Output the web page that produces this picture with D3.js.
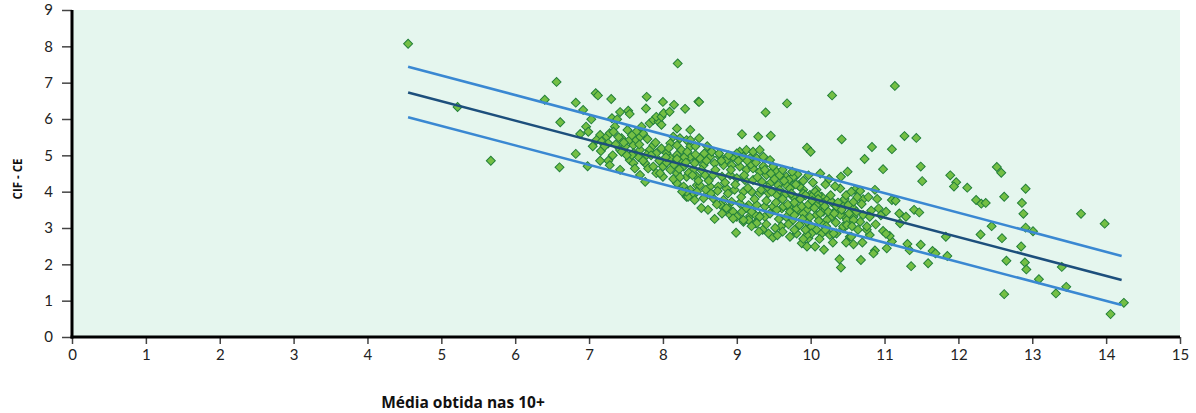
<!DOCTYPE html>
<html>
<head>
<meta charset="utf-8">
<script src="https://cdn.jsdelivr.net/npm/d3@7"></script>
<style>
  html, body { margin: 0; padding: 0; background: #ffffff; }
  svg { display: block; }
  .tick text { font-family: Lato, "Open Sans", sans-serif; font-size: 15px; fill: #222; }
  .title { font-family: "Open Sans", Lato, sans-serif; font-weight: bold; fill: #111; }
</style>
</head>
<body>
<svg id="chart" width="1196" height="413"></svg>
<script>
// ---- data ----
const xTicks = [0,1,2,3,4,5,6,7,8,9,10,11,12,13,14,15];
const yTicks = [0,1,2,3,4,5,6,7,8,9];
const xLabel = "Média obtida nas 10+";
const yLabel = "CIF - CE";

// regression line and band (start x, end x)
const lineX = [4.55, 14.21];
const fitY = [6.73, 1.57];
const upperY = [7.44, 2.23];
const lowerY = [6.05, 0.88];

// scatter points [x, y]
const points = [
[4.55,8.07],[5.22,6.33],[5.67,4.85],[6.40,6.53],[6.56,7.02],[6.61,5.91],[6.60,4.67],[6.82,6.45],[6.82,5.04],[6.98,4.70],
[7.09,6.71],[7.12,6.65],[7.30,6.55],[6.92,6.25],[7.03,5.99],[7.42,6.19],[7.53,6.23],[7.55,6.14],[7.31,6.02],[7.38,5.99],
[6.96,5.79],[6.99,5.65],[6.88,5.59],[7.35,5.79],[7.52,5.70],[7.15,5.56],[7.24,5.51],[7.10,5.42],[7.28,5.61],[7.33,5.65],
[7.44,5.47],[7.55,5.42],[7.17,5.38],[7.26,5.33],[7.16,5.12],[7.26,4.85],[7.15,4.85],[7.42,5.15],[7.49,5.24],[7.60,5.28],
[7.64,5.42],[7.69,5.51],[7.73,5.61],[7.71,5.79],[7.82,5.88],[7.87,5.97],[7.94,5.93],[7.98,5.84],[7.91,6.06],[7.98,6.06],
[8.01,6.16],[7.78,6.61],[7.77,6.29],[8.00,6.47],[8.15,6.39],[8.30,6.28],[8.09,6.20],[8.48,6.48],[8.20,7.53],[8.19,5.74],
[8.14,5.51],[7.55,4.87],[7.60,5.06],[7.67,4.95],[7.76,4.78],[7.80,4.64],[7.76,4.27],[7.82,5.15],[7.91,5.06],[7.87,5.28],
[7.98,5.19],[8.05,5.06],[8.10,4.92],[8.19,5.01],[8.25,5.15],[8.23,5.47],[8.32,5.42],[8.37,5.24],[8.10,5.33],[8.19,5.28],
[8.37,5.70],[8.00,4.69],[8.10,4.60],[7.91,4.51],[8.00,4.41],[8.19,4.51],[8.28,4.69],[8.32,4.41],[8.41,4.60],[8.46,4.41],
[8.25,4.87],[8.37,4.96],[8.46,4.87],[8.19,4.23],[8.28,4.14],[8.37,4.05],[8.46,4.18],[8.32,3.86],[8.41,3.91],[7.44,5.10],
[7.58,5.01],[7.69,5.15],[7.78,5.01],[7.60,4.78],[7.87,4.69],[7.96,4.51],[7.28,4.73],[7.42,4.60],[7.62,4.64],[7.69,4.46],
[8.49,6.47],[9.68,6.43],[9.39,6.18],[10.29,6.65],[11.14,6.91],[9.07,5.58],[9.29,5.51],[9.46,5.54],[10.42,5.44],[9.95,5.21],
[10.00,5.10],[8.49,5.47],[8.37,5.42],[9.04,5.10],[9.13,5.15],[9.22,5.10],[9.31,5.15],[8.95,4.96],[9.09,4.96],[9.18,4.92],
[9.27,4.92],[9.36,4.96],[9.45,4.87],[9.49,4.69],[9.54,4.55],[9.67,4.41],[9.72,4.32],[9.81,4.46],[9.83,4.18],[8.64,4.96],
[8.77,4.96],[8.86,4.87],[8.70,4.78],[8.82,4.73],[8.93,4.73],[8.50,4.92],[8.43,4.78],[8.55,4.73],[9.04,4.69],[9.13,4.60],
[9.22,4.64],[9.31,4.55],[9.40,4.46],[8.57,4.46],[8.68,4.46],[8.80,4.41],[8.91,4.46],[9.00,4.37],[9.11,4.32],[9.22,4.32],
[9.34,4.27],[9.45,4.23],[9.56,4.18],[8.50,4.18],[8.64,4.14],[8.75,4.14],[8.86,4.09],[8.97,4.05],[9.09,4.00],[9.20,4.00],
[9.31,3.96],[9.43,3.96],[9.54,3.91],[9.65,3.91],[9.76,3.86],[9.90,4.05],[9.99,3.91],[10.08,4.05],[10.15,3.86],[10.22,3.77],
[8.55,3.82],[8.68,3.82],[8.82,3.77],[8.93,3.72],[9.04,3.68],[9.16,3.63],[9.27,3.63],[9.38,3.59],[9.49,3.59],[9.61,3.54],
[9.72,3.54],[9.83,3.50],[9.95,3.50],[10.08,3.63],[10.17,3.54],[10.31,3.68],[10.44,3.59],[10.58,3.54],[8.61,3.50],[8.80,3.40],
[8.91,3.36],[9.18,3.33],[9.31,3.33],[8.78,3.64],[8.89,3.54],[8.95,3.45],[9.00,3.31],[9.09,3.17],[9.16,3.22],[8.99,2.87],
[9.25,3.36],[9.25,3.13],[9.38,3.31],[9.45,3.40],[9.43,2.85],[9.49,2.74],[9.60,3.04],[9.72,2.76],[9.54,3.50],[9.63,3.59],
[9.72,3.45],[9.81,3.54],[9.90,3.40],[10.08,3.36],[10.17,3.45],[10.26,3.31],[10.35,3.50],[10.44,3.36],[10.53,3.22],[9.76,3.22],
[9.85,3.08],[9.95,3.17],[10.01,3.04],[10.08,2.95],[10.15,2.85],[9.81,2.85],[9.88,2.58],[9.95,2.49],[10.06,2.49],[9.97,2.72],
[10.26,2.81],[10.35,2.85],[10.44,2.99],[10.53,2.76],[10.39,2.14],[10.41,1.91],[8.34,3.86],[8.43,3.77],[8.32,4.00],[8.95,3.26],
[9.09,3.22],[9.31,3.31],[9.27,3.13],[10.13,4.50],[10.50,4.55],[10.41,4.41],[10.40,4.09],[9.82,4.48],[9.76,4.40],[9.70,4.32],
[9.67,4.18],[9.72,4.09],[9.85,4.14],[9.90,3.95],[10.06,4.00],[10.10,3.91],[10.01,3.86],[10.28,3.72],[10.17,3.68],[10.35,3.59],
[10.51,3.63],[10.40,3.36],[10.49,3.22],[10.58,3.31],[10.28,3.31],[10.22,3.22],[10.15,3.13],[10.01,2.85],[9.95,2.81],[10.31,2.85],
[10.44,3.04],[10.49,3.08],[10.73,4.90],[10.98,4.62],[11.10,5.17],[10.83,5.23],[11.27,5.53],[11.43,5.48],[11.49,4.69],[11.51,4.29],
[11.89,4.45],[11.97,4.26],[11.94,4.14],[12.12,4.11],[12.52,4.68],[12.58,4.52],[12.62,3.86],[12.91,4.08],[12.86,3.69],[12.88,3.39],
[12.24,3.77],[12.31,3.67],[12.37,3.69],[12.45,3.05],[12.30,2.82],[12.59,2.72],[12.91,3.01],[13.01,2.91],[12.85,2.49],[12.65,2.10],
[12.90,2.05],[12.92,1.86],[11.83,2.76],[11.85,2.23],[11.59,2.03],[11.36,1.95],[11.65,2.37],[11.69,2.30],[11.49,2.54],[11.31,2.56],
[11.34,2.39],[11.10,2.63],[11.07,2.78],[10.98,2.92],[11.02,2.84],[10.80,2.81],[10.76,2.95],[10.87,2.38],[10.85,2.30],[10.68,2.12],
[11.20,3.40],[11.29,3.31],[11.21,3.13],[11.40,3.50],[11.47,3.43],[11.02,3.45],[10.92,3.54],[10.82,3.48],[11.10,3.77],[11.15,3.75],
[10.87,4.05],[10.60,4.05],[10.67,4.02],[10.71,3.79],[10.69,3.66],[10.58,3.72],[10.62,3.45],[10.71,3.36],[10.80,3.31],[10.67,3.17],
[10.58,3.22],[10.76,3.04],[10.55,2.76],[13.40,1.93],[13.09,1.59],[13.46,1.38],[13.32,1.20],[12.62,1.18],[13.66,3.39],[13.98,3.12],
[14.24,0.94],[14.06,0.63],[11.03,2.44],
[8.05,4.80],[8.14,4.35],[8.22,4.62],[8.29,4.95],[8.35,4.52],[8.44,5.02],[8.52,4.60],[8.59,4.85],[8.62,4.30],[8.71,4.60],
[8.74,4.02],[8.79,4.85],[8.84,4.25],[8.88,3.95],[8.92,4.60],[8.98,4.20],[9.02,4.85],[9.06,3.85],[9.10,4.45],[9.15,4.10],
[9.19,4.75],[9.24,3.80],[9.28,4.40],[9.33,4.05],[9.36,4.70],[9.40,3.75],[9.42,4.12],[9.47,4.00],[9.51,4.35],[9.53,3.70],
[9.58,4.05],[9.62,3.80],[9.64,4.30],[9.69,3.65],[9.74,3.95],[9.78,3.70],[9.80,4.20],[9.86,3.80],[9.88,3.60],[9.93,3.90],
[9.97,3.65],[10.02,3.75],[10.05,3.55],[10.10,3.80],[10.13,3.40],[10.19,3.60],[10.24,3.45],[10.27,3.90],[10.32,3.40],[10.37,3.70],
[10.42,3.50],[10.46,3.80],[10.52,3.40],[10.56,3.05],[10.34,3.15],[10.21,3.05],[10.11,3.20],[9.99,3.30],[9.89,3.25],[9.78,3.35],
[9.67,3.30],[9.57,3.25],[9.52,3.00],[9.40,3.10],[9.35,2.95],[9.62,2.90],[9.70,3.10],[9.93,2.95],[10.12,2.70],[10.20,2.95],
[9.07,3.45],[9.13,3.55],[9.20,3.45],[8.73,3.65],[8.65,3.95],[8.58,4.05],[8.48,4.30],[8.40,4.45],[8.31,4.80],[8.23,4.40],
[8.15,4.75],[8.08,5.20],[8.04,4.95],[7.95,4.85],[7.90,5.35],[7.84,5.00],[7.79,5.45],[7.73,4.85],[7.68,5.30],[7.64,5.65],
[7.58,5.55],[7.51,5.00],[7.47,5.35],[7.40,5.50],[7.36,5.30],[7.32,5.00],[7.21,5.25],[7.05,5.25],[8.56,5.05],[8.66,5.10],
[8.76,5.05],[8.89,5.00],[9.00,5.05],[9.14,4.85],[9.26,4.80],[9.38,4.60],[9.46,4.50],[9.58,4.45],[9.62,4.60],[9.75,4.55],
[9.90,4.30],[9.97,4.45],[10.03,4.25],[10.20,4.20],[10.25,4.35],[10.33,4.15],[10.48,3.90],[10.55,4.00],[10.63,3.85],[10.78,3.85],
[10.90,3.80],[10.95,3.35],[10.88,3.10],[10.64,2.95],[10.70,2.60],[10.58,2.55],[10.48,2.60],[10.30,2.60],[10.18,2.40],[9.90,2.70],
[9.78,2.95],[9.55,2.80],[9.30,2.90],[9.20,3.05],[8.86,3.55],[8.70,3.25],[8.52,3.55],[8.46,4.00],[8.26,4.00],[8.19,4.90],
[8.33,5.10],[8.44,5.25],[8.60,5.25]
];

// ---- chart ----
const svg = d3.select("#chart");
const mLeft = 72, mRight = 1180, mTop = 10, mBottom = 337;
const x = d3.scaleLinear().domain([0, 15]).range([mLeft, mRight]);
const y = d3.scaleLinear().domain([0, 9]).range([mBottom, mTop]);

// plot background
svg.append("rect")
  .attr("x", x(0)).attr("y", y(9))
  .attr("width", x(15) - x(0)).attr("height", y(0) - y(9))
  .attr("fill", "#e5f6ee");

// points (diamonds)
svg.append("g")
  .selectAll("path")
  .data(points)
  .join("path")
  .attr("d", d3.symbol().type(d3.symbolSquare).size(40))
  .attr("transform", d => `translate(${x(d[0])},${y(d[1])}) rotate(45)`)
  .attr("fill", "#74bf44")
  .attr("stroke", "#23803a")
  .attr("stroke-width", 1);

// lines
const lineGen = d3.line().x(d => x(d[0])).y(d => y(d[1]));
const mk = ys => lineX.map((v, i) => [v, ys[i]]);
svg.append("path").datum(mk(upperY)).attr("d", lineGen)
  .attr("fill", "none").attr("stroke", "#3a88d2").attr("stroke-width", 2.6);
svg.append("path").datum(mk(lowerY)).attr("d", lineGen)
  .attr("fill", "none").attr("stroke", "#3a88d2").attr("stroke-width", 2.6);
svg.append("path").datum(mk(fitY)).attr("d", lineGen)
  .attr("fill", "none").attr("stroke", "#1d4f7c").attr("stroke-width", 2.6);

// axes
const xAxis = d3.axisBottom(x).tickValues(xTicks).tickFormat(d3.format("d")).tickSize(7).tickPadding(4);
const yAxis = d3.axisLeft(y).tickValues(yTicks).tickFormat(d3.format("d")).tickSize(10).tickPadding(9);

const gx = svg.append("g").attr("transform", `translate(0,${mBottom})`).call(xAxis);
const gy = svg.append("g").attr("transform", `translate(${mLeft},0)`).call(yAxis);
[gx, gy].forEach(g => {
  g.select(".domain").remove();
  g.selectAll(".tick line").attr("stroke", "#444").attr("stroke-width", 1.5);
});
gx.selectAll(".tick text").attr("dy", "0.78em");

// thick axis lines
svg.append("line").attr("x1", mLeft).attr("x2", mLeft).attr("y1", mTop).attr("y2", mBottom + 1.5)
  .attr("stroke", "#000").attr("stroke-width", 3);
svg.append("line").attr("x1", mLeft - 1.5).attr("x2", mRight).attr("y1", mBottom).attr("y2", mBottom)
  .attr("stroke", "#000").attr("stroke-width", 3);

// titles
svg.append("text").attr("class", "title").style("font-size", "15.5px")
  .attr("x", 463).attr("y", 408).attr("text-anchor", "middle").text(xLabel);
svg.append("text").attr("class", "title").style("font-size", "11.5px")
  .attr("transform", "translate(22,179) rotate(-90)").attr("text-anchor", "middle").text(yLabel);
</script>
</body>
</html>
